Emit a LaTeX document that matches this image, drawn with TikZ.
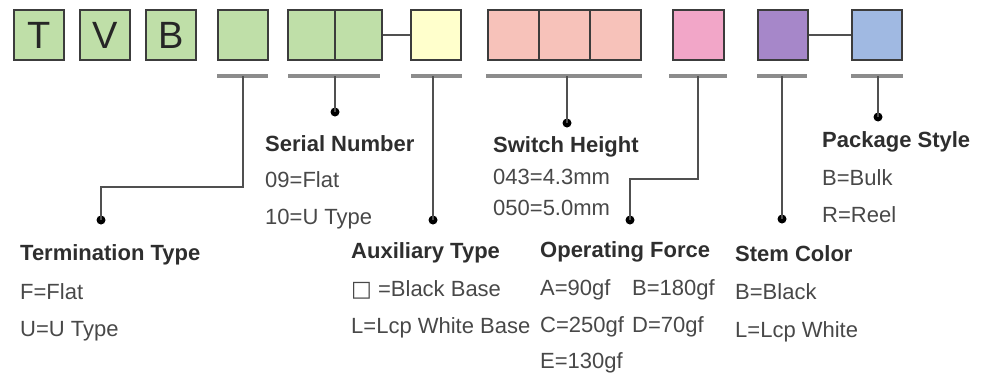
\documentclass[tikz,border=0pt]{standalone}
\usepackage{fontspec}
\setmainfont{Liberation Sans}
\newfontfamily\symfont{DejaVu Sans}
\definecolor{gfill}{HTML}{BFDFA8}
\definecolor{yfill}{HTML}{FFFFCC}
\definecolor{pfill}{HTML}{F7C2BA}
\definecolor{mfill}{HTML}{F2A6C8}
\definecolor{vfill}{HTML}{A687C9}
\definecolor{bfill}{HTML}{A0B9E2}
\definecolor{edge}{HTML}{3C3C3C}
\definecolor{wire}{HTML}{505050}
\definecolor{ul}{HTML}{8C8C8C}
\definecolor{headc}{HTML}{2E2E2E}
\definecolor{bodyc}{HTML}{484848}
\tikzset{
  cell/.style={draw=edge, line width=1.6pt, minimum height=50pt, inner sep=0pt, text=black!85,
    font=\fontsize{38}{40}\selectfont},
  uline/.style={draw=ul, line width=3.5pt},
  wireline/.style={draw=wire, line width=2pt},
  dotmark/.style={circle, fill=black, inner sep=0pt, minimum size=9pt},
  head/.style={anchor=base west, inner sep=0pt, text=headc, font=\fontsize{22}{24}\selectfont\bfseries},
  body/.style={anchor=base west, inner sep=0pt, text=bodyc, font=\fontsize{22}{24}\selectfont},
}
\begin{document}
\begin{tikzpicture}[x=1pt, y=-1pt]
\useasboundingbox (0,0) rectangle (993,381);
% boxes
\node[cell, fill=gfill, minimum width=50pt] (t) at (39,35) {T};
\node[cell, fill=gfill, minimum width=50pt] (v) at (105,35) {V};
\node[cell, fill=gfill, minimum width=50pt] (b) at (171,35) {B};
\node[cell, fill=gfill, minimum width=50pt] (g1) at (243,35) {};
\node[cell, fill=gfill, minimum width=47pt] (g2a) at (311.5,35) {};
\node[cell, fill=gfill, minimum width=47pt] (g2b) at (358.5,35) {};
\node[cell, fill=yfill, minimum width=50pt] (y) at (436,35) {};
\node[cell, fill=pfill, minimum width=51pt] (p1) at (513.5,35) {};
\node[cell, fill=pfill, minimum width=51pt] (p2) at (564.5,35) {};
\node[cell, fill=pfill, minimum width=51pt] (p3) at (615.5,35) {};
\node[cell, fill=mfill, minimum width=51pt] (pk) at (698.5,35) {};
\node[cell, fill=vfill, minimum width=50pt] (pu) at (783,35) {};
\node[cell, fill=bfill, minimum width=50pt] (bl) at (877,35) {};
\draw[wireline] (g2b.east) -- (y.west);
\draw[wireline] (pu.east) -- (bl.west);
% underlines
\coordinate (u1a) at (217,76); \coordinate (u1b) at (268,76);
\coordinate (u2a) at (288,76); \coordinate (u2b) at (380,76);
\coordinate (u3a) at (411,76); \coordinate (u3b) at (462,76);
\coordinate (u4a) at (486,76); \coordinate (u4b) at (642,76);
\coordinate (u5a) at (669,76); \coordinate (u5b) at (727,76);
\coordinate (u6a) at (757,76); \coordinate (u6b) at (807,76);
\coordinate (u7a) at (851,76); \coordinate (u7b) at (903,76);
\foreach \i in {1,...,7} {\draw[uline] (u\i a) -- (u\i b);}
% dots
\node[dotmark] (d1) at (101,220) {};
\node[dotmark] (d2) at (335,112) {};
\node[dotmark] (d3) at (433,220) {};
\node[dotmark] (d4) at (567,123) {};
\node[dotmark] (d5) at (630,220) {};
\node[dotmark] (d6) at (782,219) {};
\node[dotmark] (d7) at (878,117) {};
% connectors
\draw[wireline] (243,76) -- (243,187) -| (d1.center);
\draw[wireline] (335,76) -- (d2.center);
\draw[wireline] (433,76) -- (d3.center);
\draw[wireline] (567,76) -- (d4.center);
\draw[wireline] (698,76) -- (698,179) -| (d5.center);
\draw[wireline] (782,76) -- (d6.center);
\draw[wireline] (878,76) -- (d7.center);
% texts
\node[head] (th) at (20,260) {Termination Type};
\node[body] (t1) at (20,299) {F=Flat};
\node[body] (t2) at (20,336) {U=U Type};
\node[head] (sh) at (265,151) {Serial Number};
\node[body] (s1) at (265,187) {09=Flat};
\node[body] (s2) at (265,224) {10=U Type};
\node[head] (ah) at (351,258) {Auxiliary Type};
\node[body] (a1) at (351,296) {{\symfont □}~=Black Base};
\node[body] (a2) at (351,333) {L=Lcp White Base};
\node[head] (hh) at (493,152) {Switch Height};
\node[body] (h1) at (493,184) {043=4.3mm};
\node[body] (h2) at (493,215) {050=5.0mm};
\node[head] (oh) at (540,257) {Operating Force};
\node[body] (o1) at (540,295) {A=90gf};
\node[body] (o2) at (632,295) {B=180gf};
\node[body] (o3) at (540,332) {C=250gf};
\node[body] (o4) at (632,332) {D=70gf};
\node[body] (o5) at (540,368) {E=130gf};
\node[head] (ch) at (735,261) {Stem Color};
\node[body] (c1) at (735,299) {B=Black};
\node[body] (c2) at (735,337) {L=Lcp White};
\node[head] (ph) at (822,147) {Package Style};
\node[body] (p1t) at (822,185) {B=Bulk};
\node[body] (p2t) at (822,222) {R=Reel};
\end{tikzpicture}
\end{document}
